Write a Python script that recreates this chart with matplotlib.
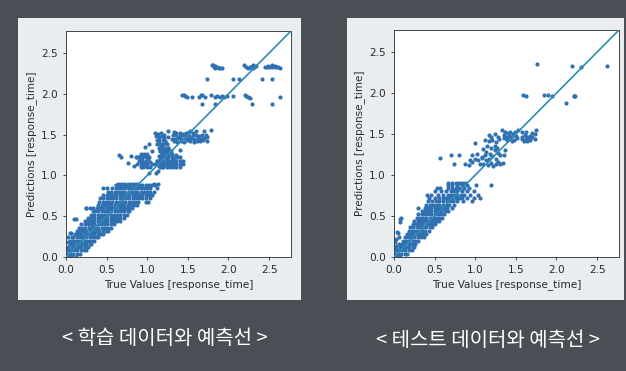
"""Predicted vs true response time, for the training and the test data."""

import matplotlib
matplotlib.use("Agg")
import matplotlib.pyplot as plt
from matplotlib.patches import Rectangle

AXIS_MAX = 2.77
TICKS = [0.0, 0.5, 1.0, 1.5, 2.0, 2.5]
X_LABEL = "True Values [response_time]"
Y_LABEL = "Predictions [response_time]"
TRAIN_CAPTION = "< 학습 데이터와 예측선 >"
TEST_CAPTION = "< 테스트 데이터와 예측선 >"

# dense part of the training cloud: one list of true values per prediction level
train_levels = [0.00, 0.04, 0.08, 0.12, 0.16, 0.20, 0.24, 0.28, 0.32, 0.36, 0.40, 0.44,
                0.48, 0.52, 0.56, 0.60, 0.64, 0.68, 0.72, 0.76, 0.80, 0.84, 0.88, 0.90,
                1.10, 1.14, 1.18, 1.22, 1.26, 1.30, 1.34, 1.38]
train_level_true = [
    [0.00, 0.04, 0.08, 0.12],
    [0.01, 0.05, 0.09, 0.13, 0.17],
    [0.02, 0.06, 0.10, 0.14, 0.18, 0.22, 0.25],
    [0.03, 0.07, 0.11, 0.15, 0.19, 0.23, 0.27],
    [0.05, 0.09, 0.13, 0.17, 0.21, 0.25, 0.29, 0.31],
    [0.07, 0.11, 0.15, 0.19, 0.23, 0.27, 0.31, 0.35],
    [0.09, 0.13, 0.17, 0.21, 0.25, 0.29, 0.33, 0.37, 0.39],
    [0.11, 0.15, 0.19, 0.23, 0.27, 0.31, 0.35, 0.39, 0.43, 0.46],
    [0.13, 0.17, 0.21, 0.25, 0.29, 0.33, 0.37, 0.41, 0.45, 0.49, 0.52],
    [0.16, 0.20, 0.24, 0.28, 0.32, 0.36, 0.40, 0.44, 0.48, 0.52, 0.56],
    [0.19, 0.23, 0.27, 0.31, 0.35, 0.39, 0.43, 0.47, 0.51, 0.55, 0.59],
    [0.23, 0.27, 0.31, 0.35, 0.39, 0.43, 0.47, 0.51, 0.55, 0.59, 0.63, 0.66],
    [0.27, 0.31, 0.35, 0.39, 0.43, 0.47, 0.51, 0.55, 0.59, 0.63, 0.67, 0.71],
    [0.31, 0.35, 0.39, 0.43, 0.47, 0.51, 0.55, 0.59, 0.63, 0.67, 0.71, 0.75],
    [0.33, 0.36, 0.40, 0.44, 0.48, 0.52, 0.56, 0.60, 0.64, 0.68, 0.72, 0.76, 0.78],
    [0.25, 0.29, 0.33, 0.38, 0.42, 0.46, 0.50, 0.54, 0.58, 0.62, 0.66, 0.70, 0.74, 0.78, 0.81],
    [0.40, 0.44, 0.48, 0.52, 0.56, 0.60, 0.64, 0.68, 0.72, 0.76, 0.80, 0.84, 0.87],
    [0.41, 0.45, 0.49, 0.53, 0.57, 0.61, 0.65, 0.69, 0.73, 0.77, 0.81, 0.85, 0.89, 0.98, 1.01],
    [0.42, 0.46, 0.50, 0.54, 0.58, 0.62, 0.66, 0.70, 0.74, 0.78, 0.82, 0.86, 0.90, 0.94, 0.98, 1.04],
    [0.46, 0.50, 0.54, 0.58, 0.62, 0.66, 0.70, 0.74, 0.78, 0.82, 0.86, 0.90, 0.94, 0.98, 1.02, 1.06],
    [0.52, 0.56, 0.60, 0.64, 0.68, 0.72, 0.76, 0.80, 0.84, 0.88, 0.92, 0.96, 1.00, 1.04, 1.08],
    [0.46, 0.50, 0.57, 0.61, 0.65, 0.69, 0.73, 0.77, 0.81, 0.85, 0.89, 0.92, 0.96, 1.00, 1.04, 1.12],
    [0.62, 0.66, 0.70, 0.74, 0.78, 0.82, 0.86, 0.90, 0.94, 0.98, 1.02, 1.06, 1.10],
    [0.64, 0.68, 0.72, 0.76, 0.80, 0.84, 0.88, 1.08, 1.13],
    [0.95, 1.00, 1.04, 1.16, 1.20, 1.24, 1.28, 1.32, 1.36, 1.40],
    [0.92, 0.96, 1.00, 1.06, 1.12, 1.16, 1.20, 1.24, 1.28, 1.32, 1.36, 1.40, 1.44],
    [0.90, 0.94, 0.98, 1.12, 1.16, 1.20, 1.24, 1.28, 1.32, 1.36, 1.40, 1.44],
    [0.86, 0.90, 0.94, 0.98, 1.02, 1.18, 1.22, 1.26, 1.30, 1.36, 1.40],
    [0.92, 0.96, 1.00, 1.18, 1.22, 1.26, 1.30],
    [1.16, 1.20, 1.24, 1.28],
    [1.14, 1.18, 1.22, 1.26],
    [1.12, 1.16, 1.20, 1.24],
]

# sparse part of the training cloud
train_true = [
    0.01, 0.02, 0.03, 0.05, 0.06, 0.05, 0.07, 0.10, 0.12, 0.27, 0.30, 0.32, 0.25, 0.74, 0.84,
    0.65, 0.68, 0.76, 0.80, 0.87, 0.92, 0.97, 1.02, 1.11, 1.13, 0.84, 0.88, 0.92, 0.96, 0.98,
    1.00, 0.90, 0.94, 0.97, 1.01, 1.04, 0.97, 1.02, 1.06, 1.10, 1.14, 1.18, 1.22, 1.26, 1.30,
    1.34, 1.38, 1.42, 1.12, 1.16, 1.20, 1.24, 1.28, 1.32, 1.36, 1.14, 1.18, 1.22, 1.26, 1.30,
    1.16, 1.19, 1.23, 1.27, 1.40, 1.17, 1.21, 1.25, 1.29, 1.15, 1.19, 1.23, 1.12, 1.15, 1.19,
    1.22, 1.11, 1.14, 1.18, 1.21, 1.10, 1.13, 1.17, 1.21, 1.25, 1.33, 1.37, 1.41, 1.45, 1.49,
    1.53, 1.57, 1.61, 1.65, 1.69, 1.73, 1.30, 1.34, 1.38, 1.42, 1.46, 1.50, 1.54, 1.58, 1.62,
    1.66, 1.70, 1.74, 1.32, 1.36, 1.40, 1.44, 1.48, 1.52, 1.56, 1.60, 1.64, 1.68, 1.72, 1.36,
    1.40, 1.44, 1.48, 1.52, 1.56, 1.25, 1.33, 1.53, 1.60, 1.70, 1.78, 1.80, 1.82, 1.84, 1.86,
    1.88, 1.90, 1.92, 1.81, 1.83, 2.19, 2.22, 2.24, 2.26, 2.28, 2.30, 2.32, 2.34, 2.30, 2.45,
    2.47, 2.49, 2.51, 2.53, 2.55, 2.57, 2.59, 2.61, 2.63, 2.53, 1.73, 2.05, 2.13, 2.41, 2.53,
    1.43, 1.45, 1.47, 1.49, 1.55, 1.64, 1.66, 1.68, 1.71, 1.79, 1.83, 1.86, 1.89, 1.92, 1.95,
    1.98, 2.05, 2.20, 2.22, 2.24, 2.27, 2.63, 1.67, 1.83, 2.29, 2.53,
]
train_pred = [
    0.10, 0.18, 0.25, 0.20, 0.30, 0.30, 0.25, 0.47, 0.47, 0.40, 0.34, 0.37, 0.60, 0.86, 0.86,
    1.25, 1.22, 1.15, 1.24, 1.23, 1.18, 1.15, 1.03, 1.03, 1.05, 1.12, 1.14, 1.10, 1.12, 1.16,
    1.12, 1.22, 1.20, 1.24, 1.20, 1.16, 1.35, 1.38, 1.30, 1.14, 1.12, 1.10, 1.14, 1.12, 1.13,
    1.18, 1.23, 1.18, 1.18, 1.20, 1.17, 1.19, 1.18, 1.20, 1.25, 1.24, 1.26, 1.23, 1.25, 1.24,
    1.30, 1.28, 1.30, 1.28, 1.31, 1.36, 1.34, 1.33, 1.30, 1.40, 1.38, 1.40, 1.44, 1.43, 1.44,
    1.42, 1.48, 1.47, 1.48, 1.46, 1.52, 1.51, 1.52, 1.50, 1.47, 1.42, 1.41, 1.42, 1.41, 1.43,
    1.42, 1.41, 1.42, 1.42, 1.43, 1.42, 1.45, 1.45, 1.46, 1.45, 1.46, 1.45, 1.46, 1.45, 1.46,
    1.45, 1.46, 1.47, 1.49, 1.49, 1.48, 1.49, 1.49, 1.48, 1.49, 1.49, 1.48, 1.49, 1.49, 1.52,
    1.52, 1.51, 1.52, 1.53, 1.52, 1.55, 1.53, 1.55, 1.55, 1.55, 1.56, 2.35, 2.33, 2.32, 2.33,
    2.32, 2.32, 2.32, 2.35, 2.34, 2.35, 2.33, 2.32, 2.33, 2.33, 2.32, 2.33, 2.34, 2.35, 2.33,
    2.33, 2.34, 2.33, 2.34, 2.33, 2.34, 2.33, 2.33, 2.32, 2.35, 2.18, 2.18, 2.18, 2.18, 2.18,
    1.98, 1.98, 1.97, 1.96, 1.96, 1.96, 1.98, 1.98, 1.96, 1.98, 1.96, 1.97, 1.96, 1.97, 1.96,
    1.97, 1.97, 1.98, 1.97, 1.96, 1.95, 1.96, 1.88, 1.88, 1.88, 1.88,
]

# dense part of the test cloud
test_levels = [0.00, 0.04, 0.08, 0.12, 0.16, 0.20, 0.24, 0.28, 0.32, 0.36, 0.40, 0.44,
               0.48, 0.52, 0.56, 0.60, 0.64, 0.68, 0.72, 0.76, 0.80, 0.84, 0.88, 0.90]
test_level_true = [
    [0.00, 0.04, 0.08],
    [0.01, 0.05, 0.09, 0.13, 0.16],
    [0.02, 0.06, 0.10, 0.14, 0.18, 0.22],
    [0.03, 0.07, 0.11, 0.15, 0.19, 0.23, 0.25],
    [0.06, 0.10, 0.14, 0.18, 0.22, 0.26],
    [0.11, 0.15, 0.19, 0.23, 0.27, 0.30],
    [0.13, 0.17, 0.21, 0.25, 0.29, 0.33, 0.37],
    [0.16, 0.20, 0.24, 0.28, 0.32, 0.36, 0.40],
    [0.18, 0.22, 0.26, 0.30, 0.34, 0.38, 0.43],
    [0.20, 0.24, 0.28, 0.32, 0.36, 0.40, 0.44, 0.47],
    [0.23, 0.27, 0.31, 0.35, 0.39, 0.43, 0.47, 0.51],
    [0.25, 0.29, 0.33, 0.37, 0.41, 0.45, 0.49, 0.53, 0.56],
    [0.28, 0.32, 0.36, 0.40, 0.44, 0.48, 0.52, 0.56, 0.59],
    [0.30, 0.34, 0.38, 0.42, 0.46, 0.50, 0.54, 0.58, 0.62],
    [0.34, 0.38, 0.42, 0.46, 0.50, 0.54, 0.58, 0.63, 0.67],
    [0.29, 0.38, 0.42, 0.46, 0.50, 0.54, 0.58, 0.62, 0.65, 0.71],
    [0.40, 0.44, 0.48, 0.52, 0.56, 0.60, 0.64, 0.68, 0.74],
    [0.42, 0.47, 0.52, 0.56, 0.60, 0.65, 0.69, 0.73, 0.78, 0.85, 0.96],
    [0.43, 0.50, 0.56, 0.60, 0.64, 0.68, 0.72, 0.76, 0.80, 0.84, 0.90, 0.98, 1.06],
    [0.41, 0.46, 0.54, 0.60, 0.66, 0.70, 0.74, 0.78, 0.82, 0.86, 0.94, 1.04],
    [0.50, 0.58, 0.64, 0.70, 0.74, 0.78, 0.84, 0.90, 0.99],
    [0.53, 0.57, 0.66, 0.72, 0.76, 0.80, 0.86, 0.92],
    [0.66, 0.72, 0.78, 0.84, 0.90, 1.01],
    [0.67, 0.72, 0.76, 0.80, 0.84, 0.88],
]

# sparse part of the test cloud
test_true = [
    0.01, 0.01, 0.02, 0.03, 0.04, 0.05, 0.06, 0.08, 0.09, 0.07, 0.57, 0.70, 0.74, 0.80, 0.87,
    0.92, 0.93, 0.96, 1.00, 1.03, 1.06, 1.08, 1.10, 1.13, 1.16, 1.19, 1.22, 1.25, 1.28, 1.31,
    1.34, 0.96, 1.02, 1.08, 1.12, 1.17, 1.21, 1.26, 1.30, 1.13, 1.18, 1.24, 1.28, 1.36, 1.00,
    1.10, 1.15, 1.20, 1.24, 1.27, 1.37, 1.12, 1.17, 1.21, 1.25, 1.29, 1.17, 1.20, 1.24, 1.28,
    1.33, 1.36, 1.39, 1.42, 1.45, 1.48, 1.51, 1.35, 1.38, 1.41, 1.44, 1.47, 1.50, 1.37, 1.40,
    1.43, 1.46, 1.49, 1.53, 1.58, 1.60, 1.62, 1.64, 1.66, 1.68, 1.58, 1.61, 1.64, 1.67, 1.70,
    1.74, 1.57, 1.63, 1.70, 1.75, 1.74, 1.19, 1.76, 2.19, 2.30, 2.62, 1.59, 1.63, 1.85, 1.89,
    1.94, 2.21, 2.23, 2.12, 2.22,
]
test_pred = [
    0.10, 0.18, 0.14, 0.22, 0.30, 0.29, 0.25, 0.46, 0.48, 0.43, 1.21, 1.25, 1.14, 1.24, 1.13,
    1.12, 1.18, 1.16, 1.20, 1.18, 1.13, 1.21, 1.14, 1.18, 1.12, 1.15, 1.11, 1.14, 1.16, 1.13,
    1.15, 1.24, 1.26, 1.22, 1.24, 1.20, 1.23, 1.20, 1.24, 1.28, 1.26, 1.30, 1.27, 1.24, 1.39,
    1.32, 1.35, 1.33, 1.36, 1.33, 1.31, 1.43, 1.41, 1.43, 1.40, 1.44, 1.49, 1.47, 1.50, 1.47,
    1.55, 1.45, 1.43, 1.44, 1.42, 1.43, 1.45, 1.49, 1.47, 1.48, 1.47, 1.49, 1.48, 1.52, 1.51,
    1.53, 1.50, 1.52, 1.55, 1.44, 1.42, 1.44, 1.42, 1.44, 1.43, 1.47, 1.49, 1.46, 1.48, 1.47,
    1.44, 1.52, 1.52, 1.51, 1.55, 1.50, 0.88, 2.35, 2.33, 2.32, 2.33, 1.98, 1.97, 1.98, 1.98,
    1.96, 1.97, 1.97, 1.88, 1.97,
]

POINT_COLOR = "#3171b2"
LINE_COLOR = "#2b8cb3"
PAGE_COLOR = "#4a4e55"
PANEL_COLOR = "#e9edf0"
INK = "#2a2a2a"


def add_panel(fig, left, top, right, bottom):
    # light card behind one chart, given in image pixels
    w, h = fig.canvas.get_width_height()
    fig.patches.append(Rectangle((left / w, 1 - bottom / h), (right - left) / w, (bottom - top) / h,
                                 transform=fig.transFigure, facecolor=PANEL_COLOR, edgecolor="none",
                                 figure=fig, zorder=-1))


def draw_scatter(fig, box, levels, level_true, sparse_true, sparse_pred):
    w, h = fig.canvas.get_width_height()
    left, top, right, bottom = box
    ax = fig.add_axes([left / w, 1 - bottom / h, (right - left) / w, (bottom - top) / h])

    xs = [x for row in level_true for x in row] + sparse_true
    ys = [lvl for lvl, row in zip(levels, level_true) for _ in row] + sparse_pred
    ax.scatter(xs, ys, s=9, color=POINT_COLOR, linewidths=0, zorder=2)
    ax.plot([0, AXIS_MAX], [0, AXIS_MAX], color=LINE_COLOR, linewidth=1.2, zorder=3)

    ax.set_xlim(0, AXIS_MAX)
    ax.set_ylim(0, AXIS_MAX)
    ax.set_xticks(TICKS)
    ax.set_yticks(TICKS)
    ax.tick_params(labelsize=7.6, length=2.5, width=0.6, pad=3.5, colors=INK)
    ax.set_xlabel(X_LABEL, fontsize=7.6, color=INK, labelpad=2.5)
    ax.set_ylabel(Y_LABEL, fontsize=7.5, color=INK, labelpad=2.5)
    for spine in ax.spines.values():
        spine.set_color("#444444")
        spine.set_linewidth(0.7)
    return ax


fig = plt.figure(figsize=(6.26, 3.71), dpi=100, facecolor=PAGE_COLOR)
add_panel(fig, 18, 18, 301, 300)
add_panel(fig, 347, 18, 624, 300)

draw_scatter(fig, (66, 31, 291, 257), train_levels, train_level_true, train_true, train_pred)
draw_scatter(fig, (394, 30, 619, 257), test_levels, test_level_true, test_true, test_pred)

caption_font = ["Noto Sans CJK KR", "DejaVu Sans"]
fig.text(165 / 626, 1 - 339 / 371, TRAIN_CAPTION, color="white", fontsize=14.4, ha="center", va="center",
         family=caption_font, weight="medium")
fig.text(488 / 626, 1 - 340 / 371, TEST_CAPTION, color="white", fontsize=14.4, ha="center", va="center",
         family=caption_font, weight="medium")

fig.savefig("out.png", dpi=100, facecolor=fig.get_facecolor())
plt.close(fig)
